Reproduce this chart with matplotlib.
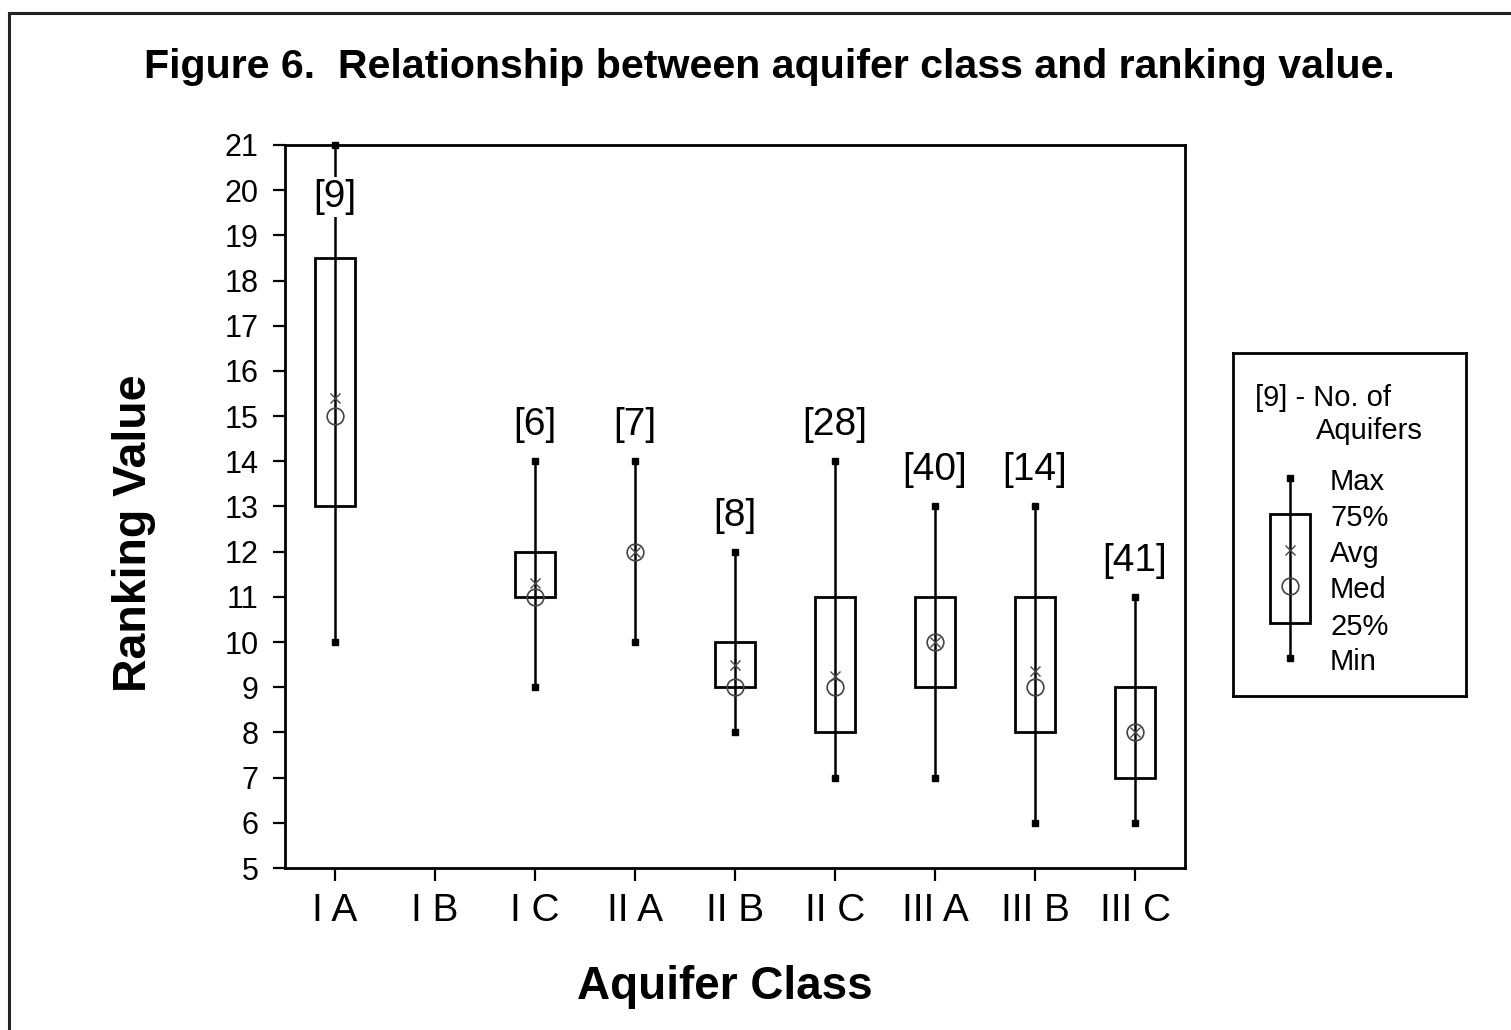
import numpy as np
import matplotlib
matplotlib.use("Agg")
import matplotlib.pyplot as plt
from matplotlib.lines import Line2D

plt.rcParams['font.family'] = ['Liberation Sans', 'DejaVu Sans']

# ---- data ----
classes = ['I A', 'I B', 'I C', 'II A', 'II B', 'II C', 'III A', 'III B', 'III C']
counts = [9, None, 6, 7, 8, 28, 40, 14, 41]
v_max = [21, np.nan, 14, 14, 12, 14, 13, 13, 11]
v_q3 = [18.5, np.nan, 12, 12, 10, 11, 11, 11, 9]
v_avg = [15.4, np.nan, 11.3, 12, 9.5, 9.25, 10, 9.35, 8]
v_med = [15, np.nan, 11, 12, 9, 9, 10, 9, 8]
v_q1 = [13, np.nan, 11, 12, 9, 8, 9, 8, 7]
v_min = [10, np.nan, 9, 10, 8, 7, 7, 6, 6]
yticks = list(range(5, 22))

leg_labels = ['Max', '75%', 'Avg', 'Med', '25%', 'Min']

W, H = 1511, 1030
fig = plt.figure(figsize=(W / 100, H / 100), dpi=100)
fig.patch.set_facecolor('white')

# frame lines (left and top only visible)
fig.add_artist(Line2D([9 / W, 9 / W], [0, 1 - 13 / H], color='#222222', lw=2.2, transform=fig.transFigure))
fig.add_artist(Line2D([9 / W, 1], [1 - 13 / H, 1 - 13 / H], color='#222222', lw=2.2, transform=fig.transFigure))

ax_l, ax_r, ax_t, ax_b = 285, 1185, 145, 868
ax = fig.add_axes([ax_l / W, 1 - ax_b / H, (ax_r - ax_l) / W, (ax_b - ax_t) / H])
x = np.arange(1, len(classes) + 1)
ax.set_xlim(0.5, len(classes) + 0.5)
ax.set_ylim(5, 21)

bw = 0.4
lw_w = 1.8
for i, xi in enumerate(x):
    if counts[i] is None:
        continue
    ymax = ax.get_ylim()[1]
    lab_y = v_max[i] + 0.8
    boxed = False
    if lab_y > ymax - 0.4:
        lab_y = ymax - 1.15
        boxed = True
    ax.plot([xi, xi], [v_min[i], v_max[i]], color='black', lw=lw_w, zorder=2, solid_capstyle='butt')
    if v_q3[i] > v_q1[i]:
        ax.add_patch(plt.Rectangle((xi - bw / 2, v_q1[i]), bw, v_q3[i] - v_q1[i],
                                   fill=False, edgecolor='black', lw=2.0, zorder=3))
    ax.plot([xi, xi], [v_min[i], v_max[i]], ls='none', marker='s', ms=5, color='black', zorder=4, clip_on=False)
    ax.plot(xi, v_med[i], marker='o', ms=12, mfc='none', mec='#444444', mew=1.2, zorder=5)
    ax.plot(xi, v_avg[i], marker='x', ms=7, color='#444444', mew=1.0, zorder=5)
    bbox = dict(facecolor='white', edgecolor='none', pad=1) if boxed else None
    ax.text(xi, lab_y, f'[{counts[i]}]', ha='center', va='center', fontsize=28,
            bbox=bbox, zorder=6)

ax.set_xticks(x)
ax.set_xticklabels(classes, fontsize=28)
ax.set_yticks(yticks)
ax.set_yticklabels([str(v) for v in yticks], fontsize=22)
ax.tick_params(axis='both', direction='out', length=9, width=1.6, color='black')
ax.tick_params(axis='x', pad=9)
ax.tick_params(axis='y', pad=10)
for s in ax.spines.values():
    s.set_linewidth(2.0)

ax.set_ylabel('Ranking Value', fontsize=33.5, fontweight='bold')
ax.yaxis.set_label_coords(-0.143, 0.463)
ax.set_xlabel('Aquifer Class', fontsize=33, fontweight='bold')
ax.xaxis.set_label_coords(0.489, -0.134)

fig.text(769 / W, 1 - 67 / H, 'Figure 6.  Relationship between aquifer class and ranking value.',
         ha='center', va='center', fontsize=29.6, fontweight='bold')

# ---- legend panel ----
lx0, lx1, ly0, ly1 = 1233, 1466, 353, 696
lax = fig.add_axes([lx0 / W, 1 - ly1 / H, (lx1 - lx0) / W, (ly1 - ly0) / H])
lax.set_xlim(0, lx1 - lx0)
lax.set_ylim(ly1 - ly0, 0)
lax.set_xticks([])
lax.set_yticks([])
for s in lax.spines.values():
    s.set_linewidth(2.0)

leg_y = [125, 161, 197, 233, 270, 305]  # pixel rows of Max, 75%, Avg, Med, 25%, Min
bx = 57
lax.plot([bx, bx], [leg_y[0], leg_y[5]], color='black', lw=lw_w)
lax.add_patch(plt.Rectangle((bx - 20, leg_y[1]), 40, leg_y[4] - leg_y[1], fill=False,
                            edgecolor='black', lw=2.0))
lax.plot([bx, bx], [leg_y[0], leg_y[5]], ls='none', marker='s', ms=5, color='black')
lax.plot(bx, leg_y[2], marker='x', ms=7, color='#444444', mew=1.0)
lax.plot(bx, leg_y[3], marker='o', ms=12, mfc='none', mec='#444444', mew=1.2)
for lab, yy in zip(leg_labels, leg_y):
    lax.text(97, yy + 4, lab, ha='left', va='center', fontsize=21)
lax.text(22, 45, '[9] - No. of', ha='left', va='center', fontsize=21)
lax.text(83, 78, 'Aquifers', ha='left', va='center', fontsize=21)

fig.savefig('out.png', dpi=100, facecolor='white')
